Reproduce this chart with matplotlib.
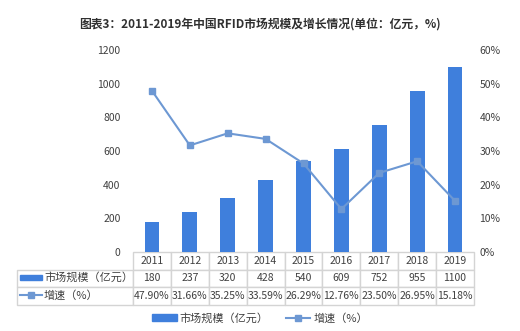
import matplotlib
matplotlib.use("Agg")
import matplotlib.pyplot as plt
from matplotlib.table import Table
from matplotlib.patches import Rectangle
from matplotlib.lines import Line2D

plt.rcParams['font.family'] = ['Noto Sans CJK SC', 'DejaVu Sans']

# data
years = ["2011", "2012", "2013", "2014", "2015", "2016", "2017", "2018", "2019"]
market_size = [180, 237, 320, 428, 540, 609, 752, 955, 1100]
growth = [47.90, 31.66, 35.25, 33.59, 26.29, 12.76, 23.50, 26.95, 15.18]
growth_labels = ["47.90%", "31.66%", "35.25%", "33.59%", "26.29%", "12.76%",
                 "23.50%", "26.95%", "15.18%"]

bar_color = "#3f7fdc"
line_color = "#6d98d3"
text_color = "#404040"
grid_color = "#d4d4d4"

W, H = 520, 331
fig = plt.figure(figsize=(5.2, 3.31), dpi=100)

# axes placement in pixels
left_px, right_px, top_px, bot_px = 133, 474, 50, 252
ax = fig.add_axes([left_px / W, 1 - bot_px / H, (right_px - left_px) / W, (bot_px - top_px) / H])

x = list(range(len(years)))
ax.bar(x, market_size, width=0.39, color=bar_color, zorder=2)
ax.set_xlim(-0.5, len(years) - 0.5)
ax.set_ylim(0, 1200)
ax.set_yticks(range(0, 1201, 200))
ax.set_xticks([])
ax.tick_params(axis="y", length=0, labelsize=7.5, colors=text_color, pad=9)
for s in ax.spines.values():
    s.set_visible(False)

ax2 = ax.twinx()
ax2.plot(x, growth, color=line_color, lw=1.5, marker="s", markersize=4.5,
         markerfacecolor=line_color, markeredgecolor=line_color, zorder=3)
ax2.set_ylim(0, 60)
ax2.set_yticks(range(0, 61, 10))
ax2.set_yticklabels([f"{v}%" for v in range(0, 61, 10)])
ax2.tick_params(axis="y", length=0, labelsize=7.5, colors=text_color, pad=4)
for s in ax2.spines.values():
    s.set_visible(False)

# data table under the plot
ax_w = right_px - left_px
ax_h = bot_px - top_px
label_w = (133 - 17) / ax_w
col_w = 1.0 / len(years)
row_h = 17.5 / ax_h
tbl = Table(ax, bbox=[0, -3 * row_h, 1, 3 * row_h])
rows = [years, [str(v) for v in market_size], growth_labels]
for r, vals in enumerate(rows):
    if r > 0:
        tbl.add_cell(r, -1, width=label_w, height=row_h, text="",
                     facecolor="white", edgecolor=grid_color)
    for j, v in enumerate(vals):
        c = tbl.add_cell(r, j, width=col_w, height=row_h, text=v, loc="center",
                         facecolor="white", edgecolor=grid_color)
        c.get_text().set_color(text_color)
tbl.auto_set_font_size(False)
tbl.set_fontsize(7.5)
ax.add_table(tbl)

# row labels with series icons
def fy(py):
    return 1 - py / H

fig.patches.append(Rectangle((20 / W, fy(277) - 2.5 / H), 22 / W, 5 / H,
                             transform=fig.transFigure, color=bar_color))
fig.text(44 / W, fy(277), "市场规模（亿元）", fontsize=8, color=text_color,
         va="center", ha="left")
fig.lines.append(Line2D([20 / W, 31 / W, 42 / W], [fy(295)] * 3, transform=fig.transFigure,
                        color=line_color, lw=1.5, marker="s", markersize=4,
                        markevery=[1], markerfacecolor=line_color))
fig.text(44 / W, fy(295), "增速（%）", fontsize=8, color=text_color,
         va="center", ha="left")

# legend
handles = [Rectangle((0, 0), 1, 1, color=bar_color),
           Line2D([], [], color=line_color, lw=1.5, marker="s", markersize=4)]
fig.legend(handles, ["市场规模（亿元）", "增速（%）"], loc="center",
           bbox_to_anchor=(0.5, fy(318)), ncol=2, frameon=False, fontsize=8,
           handlelength=2.2, handleheight=0.5, columnspacing=1.5, handletextpad=0.3,
           labelcolor=text_color)

fig.text(0.5, fy(24), "图表3：2011-2019年中国RFID市场规模及增长情况(单位：亿元，%)",
         ha="center", va="center", fontsize=8.5, fontweight="bold", color="#303030")

fig.savefig("out.png", dpi=100, facecolor="white")
